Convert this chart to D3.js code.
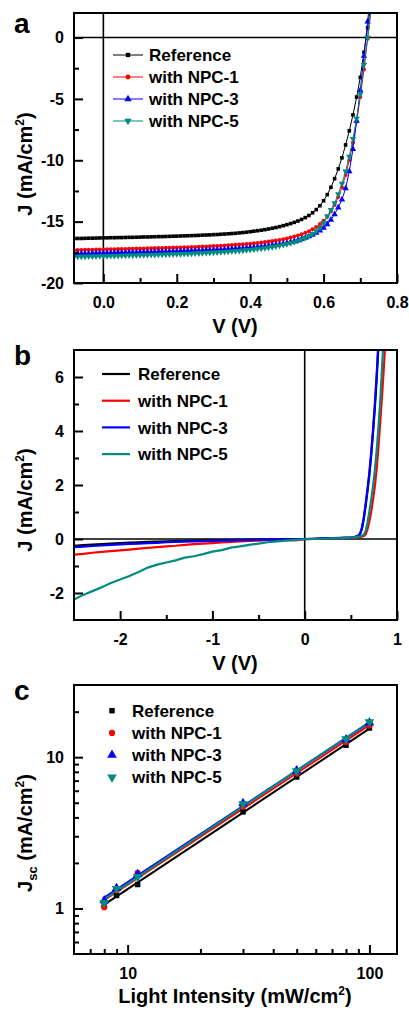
<!DOCTYPE html>
<html><head><meta charset="utf-8">
<script src="https://cdn.jsdelivr.net/npm/d3@7"></script>
<style>
body{margin:0;background:#fff;}
svg{display:block;}
text{font-family:Arial,"Liberation Sans",sans-serif;font-weight:bold;fill:#000;}
</style></head><body>
<svg id="chart" width="409" height="1010"></svg>
<script>
// ---------- DATA ----------
const seriesNames = ["Reference", "with NPC-1", "with NPC-3", "with NPC-5"];
const seriesColors = ["#000000", "#ff0000", "#0000ff", "#008b80"];

// Panel a: J-V under illumination
const vA = [-0.08,-0.07,-0.06,-0.05,-0.04,-0.03,-0.02,-0.01,0.00,
 0.01,0.02,0.03,0.04,0.05,0.06,0.07,0.08,0.09,0.10,
 0.11,0.12,0.13,0.14,0.15,0.16,0.17,0.18,0.19,0.20,
 0.21,0.22,0.23,0.24,0.25,0.26,0.27,0.28,0.29,0.30,
 0.31,0.32,0.33,0.34,0.35,0.36,0.37,0.38,0.39,0.40,
 0.41,0.42,0.43,0.44,0.45,0.46,0.47,0.48,0.49,0.50,
 0.51,0.52,0.53,0.54,0.55,0.56,0.57,0.58,0.59,0.60,
 0.61,0.62,0.63,0.64,0.65,0.66,0.67,0.68,0.69,0.70,
 0.71,0.72,0.73,0.74];
const jRefA = [-16.38,-16.37,-16.37,-16.36,-16.35,-16.35,-16.34,-16.33,-16.32,
 -16.32,-16.31,-16.31,-16.30,-16.30,-16.29,-16.28,-16.28,-16.27,-16.26,
 -16.25,-16.25,-16.24,-16.23,-16.22,-16.22,-16.21,-16.20,-16.19,-16.18,
 -16.17,-16.16,-16.15,-16.14,-16.13,-16.12,-16.10,-16.09,-16.08,-16.06,
 -16.05,-16.03,-16.01,-15.99,-15.97,-15.95,-15.92,-15.89,-15.86,-15.82,
 -15.78,-15.74,-15.70,-15.65,-15.60,-15.54,-15.48,-15.41,-15.33,-15.25,
 -15.16,-15.06,-14.95,-14.82,-14.67,-14.50,-14.28,-14.02,-13.70,-13.30,
 -12.80,-12.20,-11.50,-10.70,-9.80,-8.75,-7.60,-6.30,-4.85,-3.25,
 -1.20,0.80,2.90,5.10];
const jNpc1A = [-17.32,-17.31,-17.31,-17.30,-17.29,-17.29,-17.28,-17.27,-17.27,
 -17.26,-17.25,-17.25,-17.24,-17.23,-17.23,-17.22,-17.21,-17.20,-17.20,
 -17.19,-17.18,-17.17,-17.16,-17.16,-17.15,-17.14,-17.13,-17.12,-17.11,
 -17.10,-17.09,-17.08,-17.07,-17.06,-17.05,-17.03,-17.02,-17.01,-16.99,
 -16.98,-16.96,-16.95,-16.93,-16.91,-16.89,-16.87,-16.85,-16.82,-16.80,
 -16.77,-16.74,-16.71,-16.67,-16.63,-16.59,-16.54,-16.49,-16.43,-16.37,
 -16.30,-16.22,-16.13,-16.03,-15.91,-15.78,-15.62,-15.43,-15.20,-14.93,
 -14.60,-14.18,-13.65,-13.00,-12.20,-11.20,-10.00,-8.55,-6.85,-4.85,
 -2.60,-0.10,2.50,5.20];
const jNpc3A = [-17.62,-17.61,-17.61,-17.60,-17.60,-17.59,-17.58,-17.58,-17.57,
 -17.56,-17.56,-17.55,-17.54,-17.54,-17.53,-17.52,-17.52,-17.51,-17.50,
 -17.49,-17.49,-17.48,-17.47,-17.46,-17.46,-17.45,-17.44,-17.43,-17.42,
 -17.41,-17.40,-17.39,-17.38,-17.37,-17.36,-17.35,-17.33,-17.32,-17.31,
 -17.29,-17.28,-17.26,-17.25,-17.23,-17.21,-17.19,-17.17,-17.15,-17.12,
 -17.10,-17.07,-17.04,-17.01,-16.97,-16.93,-16.89,-16.84,-16.79,-16.73,
 -16.67,-16.60,-16.52,-16.43,-16.33,-16.21,-16.08,-15.92,-15.73,-15.50,
 -15.22,-14.85,-14.40,-13.85,-13.20,-12.30,-10.90,-9.10,-6.80,-4.30,
 -1.50,1.30,4.30,7.00];
const jNpc5A = [-17.86,-17.85,-17.85,-17.84,-17.83,-17.83,-17.82,-17.81,-17.80,
 -17.80,-17.79,-17.78,-17.78,-17.77,-17.76,-17.75,-17.75,-17.74,-17.73,
 -17.72,-17.71,-17.70,-17.70,-17.69,-17.68,-17.67,-17.66,-17.65,-17.64,
 -17.63,-17.62,-17.61,-17.60,-17.58,-17.57,-17.56,-17.54,-17.53,-17.51,
 -17.50,-17.48,-17.46,-17.44,-17.42,-17.40,-17.38,-17.35,-17.32,-17.29,
 -17.26,-17.22,-17.19,-17.15,-17.10,-17.06,-17.01,-16.95,-16.89,-16.82,
 -16.74,-16.66,-16.56,-16.45,-16.32,-16.17,-15.99,-15.78,-15.50,-15.10,
 -14.55,-14.05,-13.50,-12.75,-11.90,-10.90,-9.70,-8.25,-6.60,-4.60,
 -2.20,0.00,2.40,4.90];

// Panel b: dark J-V
const vB = [-2.5,-2.4,-2.3,-2.2,-2.1,-2.0,-1.9,-1.8,-1.7,-1.6,-1.5,-1.4,-1.3,-1.2,-1.1,-1.0,
 -0.9,-0.8,-0.7,-0.6,-0.5,-0.4,-0.3,-0.2,-0.1,0,0.1,0.2,0.3,0.4,0.5,
 0.52,0.54,0.56,0.58,0.60,0.62,0.64,0.66,0.68,0.70,0.72,0.74,0.76,0.78,0.80,0.82,0.84,0.86,0.88,0.90];
const jRefB = [-0.25,-0.23,-0.21,-0.19,-0.17,-0.15,-0.13,-0.12,-0.11,-0.10,-0.09,-0.08,-0.07,-0.06,-0.05,-0.05,
 -0.04,-0.04,-0.03,-0.03,-0.02,-0.02,-0.01,-0.01,0.00,0.00,0.01,0.02,0.03,0.04,0.05,
 0.06,0.07,0.09,0.12,0.18,0.38,0.74,1.22,1.76,2.35,3.08,3.92,4.85,5.95,7.20,8.60,9.80,10.8,11.8,12.8];
const jNpc1B = [-0.58,-0.55,-0.51,-0.48,-0.45,-0.42,-0.39,-0.36,-0.33,-0.30,-0.27,-0.25,-0.22,-0.19,-0.17,-0.15,
 -0.13,-0.11,-0.09,-0.07,-0.06,-0.04,-0.03,-0.03,-0.05,-0.01,0.00,0.01,0.02,0.03,0.04,
 0.05,0.05,0.06,0.07,0.08,0.09,0.11,0.16,0.35,0.65,1.00,1.45,1.95,2.60,3.45,4.40,5.40,6.50,7.70,9.00];
const jNpc3B = [-0.30,-0.28,-0.26,-0.24,-0.22,-0.20,-0.18,-0.17,-0.15,-0.14,-0.12,-0.11,-0.10,-0.09,-0.08,-0.07,
 -0.06,-0.05,-0.04,-0.04,-0.03,-0.02,-0.02,-0.01,-0.01,0.00,0.01,0.02,0.03,0.04,0.06,
 0.07,0.08,0.10,0.13,0.20,0.42,0.80,1.30,1.85,2.45,3.20,4.05,5.00,6.10,7.40,8.80,10.0,11.0,12.0,13.0];
const jNpc5B = [-2.24,-2.07,-1.93,-1.79,-1.63,-1.50,-1.37,-1.22,-1.06,-0.95,-0.87,-0.79,-0.69,-0.64,-0.56,-0.47,
 -0.41,-0.32,-0.27,-0.22,-0.17,-0.12,-0.09,-0.06,-0.03,-0.01,0.00,0.01,0.02,0.03,0.05,
 0.06,0.07,0.08,0.09,0.10,0.12,0.16,0.30,0.60,1.00,1.45,1.95,2.55,3.30,4.20,5.20,6.50,7.80,9.20,10.60];

// Panel c: Jsc vs light intensity
const intensity = [8, 9, 11, 30, 50, 80, 100];
const jscRef  = [1.07, 1.22, 1.44, 4.35, 7.40, 12.0, 15.6];
const jscNpc1 = [1.02, 1.32, 1.72, 4.70, 7.80, 12.6, 16.2];
const jscNpc3 = [1.13, 1.36, 1.68, 4.95, 8.15, 13.1, 16.9];
const jscNpc5 = [1.09, 1.35, 1.62, 4.90, 8.10, 13.2, 17.1];

// Tick definitions
const ticksAx = [0, 0.2, 0.4, 0.6, 0.8], minorAx = [0.1, 0.3, 0.5, 0.7];
const ticksAy = [0, -5, -10, -15, -20], minorAy = [-2.5, -7.5, -12.5, -17.5];
const ticksBx = [-2, -1, 0, 1], minorBx = [-1.5, -0.5, 0.5];
const ticksBy = [-2, 0, 2, 4, 6], minorBy = [-1, 1, 3, 5];
const ticksCx = [10, 100], minorCx = [7, 8, 9, 20, 30, 40, 50, 60, 70, 80, 90];
const ticksCy = [1, 10], minorCy = [0.6, 0.7, 0.8, 0.9, 2, 3, 4, 5, 6, 7, 8, 9, 20];

// ---------- DRAW ----------
const svg = d3.select("#chart");
const L = 74, R = 397;
const FONT_TICK = 16, FONT_TITLE = 20, FONT_LEG = 17;
const fmtInt = d => String(d);          // plain hyphen-minus like the original
const fmt1 = d => d.toFixed(1);

function symbolFor(i) {
  if (i === 0) return d3.symbol().type(d3.symbolSquare);
  if (i === 1) return d3.symbol().type(d3.symbolCircle);
  return d3.symbol().type(d3.symbolTriangle);
}

function axes(g, x, y, top, bottom, xt, xm, yt, ym, xfmt, yfmt) {
  const ax = d3.axisBottom(x).tickValues(xt).tickSize(-9).tickPadding(14).tickFormat(xfmt);
  const axm = d3.axisBottom(x).tickValues(xm).tickSize(-5).tickFormat("");
  const ay = d3.axisLeft(y).tickValues(yt).tickSize(-9).tickPadding(10).tickFormat(yfmt);
  const aym = d3.axisLeft(y).tickValues(ym).tickSize(-5).tickFormat("");
  [ [ax, "b"], [axm, "b"], [ay, "l"], [aym, "l"] ].forEach(([a, side]) => {
    const gg = g.append("g").attr("transform", side === "b" ? `translate(0,${bottom})` : `translate(${L},0)`).call(a);
    gg.select(".domain").remove();
    gg.selectAll("line").attr("stroke", "#000").attr("stroke-width", 2);
    gg.selectAll("text").attr("font-size", FONT_TICK).attr("font-family", null).attr("fill", "#000");
  });
  g.append("rect").attr("x", L).attr("y", top).attr("width", R - L).attr("height", bottom - top)
    .attr("fill", "none").attr("stroke", "#000").attr("stroke-width", 2);
}

function yTitle(g, cx, cy, sub) {
  const t = g.append("text").attr("transform", `translate(${cx},${cy}) rotate(-90)`)
    .attr("text-anchor", "middle").attr("dy", "0.36em").attr("font-size", FONT_TITLE);
  t.append("tspan").text("J");
  if (sub) { t.append("tspan").attr("font-size", 13).attr("dy", 5).text(sub); t.append("tspan").attr("dy", -5).text(" (mA/cm"); }
  else t.append("tspan").text(" (mA/cm");
  t.append("tspan").attr("font-size", 12).attr("dy", -8).text("2");
  t.append("tspan").attr("dy", 8).text(")");
}

// ===== Panel a =====
(function () {
  const top = 13, bottom = 283;
  const x = d3.scaleLinear().domain([-0.08, 0.8]).range([L, R]);
  const y = d3.scaleLinear().domain([-20, 2]).range([bottom, top]);
  const g = svg.append("g");
  g.append("clipPath").attr("id", "clipA").append("rect").attr("x", L).attr("y", top).attr("width", R - L).attr("height", bottom - top);
  const plot = g.append("g").attr("clip-path", "url(#clipA)");
  plot.append("line").attr("x1", x(0)).attr("x2", x(0)).attr("y1", top).attr("y2", bottom).attr("stroke", "#000").attr("stroke-width", 1.6);
  plot.append("line").attr("x1", L).attr("x2", R).attr("y1", y(0)).attr("y2", y(0)).attr("stroke", "#000").attr("stroke-width", 1.6);
  const sets = [jRefA, jNpc1A, jNpc3A, jNpc5A];
  const line = d3.line().x(d => x(d[0])).y(d => y(d[1]));
  const sizes = [13, 13, 18, 18];
  sets.forEach((js, i) => {
    const pts = vA.map((v, k) => [v, js[k]]);
    plot.append("path").attr("d", line(pts)).attr("fill", "none").attr("stroke", seriesColors[i]).attr("stroke-width", 1);
    plot.append("g").selectAll("path").data(pts).join("path")
      .attr("d", symbolFor(i).size(sizes[i]))
      .attr("transform", d => `translate(${x(d[0])},${y(d[1])})${i === 3 ? " rotate(180)" : ""}`)
      .attr("fill", seriesColors[i]);
  });
  axes(g, x, y, top, bottom, ticksAx, minorAx, ticksAy, minorAy, fmt1, fmtInt);
  // legend
  seriesNames.forEach((n, i) => {
    const cy = 55 + i * 22;
    g.append("line").attr("x1", 113).attr("x2", 143).attr("y1", cy).attr("y2", cy).attr("stroke", seriesColors[i]).attr("stroke-width", 1);
    g.append("path").attr("d", symbolFor(i).size(sizes[i] + 6)).attr("transform", `translate(128,${cy})${i === 3 ? " rotate(180)" : ""}`).attr("fill", seriesColors[i]);
    g.append("text").attr("x", 149).attr("y", cy).attr("dy", "0.36em").attr("font-size", FONT_LEG).text(n);
  });
  g.append("text").attr("x", 235).attr("y", 333).attr("text-anchor", "middle").attr("font-size", FONT_TITLE).text("V (V)");
  yTitle(g, 25, 164, null);
  g.append("text").attr("x", 14).attr("y", 33).attr("font-size", 28).text("a");
})();

// ===== Panel b =====
(function () {
  const top = 350, bottom = 620;
  const x = d3.scaleLinear().domain([-2.5, 1]).range([L, R]);
  const y = d3.scaleLinear().domain([-3, 7]).range([bottom, top]);
  const g = svg.append("g");
  g.append("clipPath").attr("id", "clipB").append("rect").attr("x", L).attr("y", top).attr("width", R - L).attr("height", bottom - top);
  const plot = g.append("g").attr("clip-path", "url(#clipB)");
  plot.append("line").attr("x1", x(0)).attr("x2", x(0)).attr("y1", top).attr("y2", bottom).attr("stroke", "#000").attr("stroke-width", 1.6);
  plot.append("line").attr("x1", L).attr("x2", R).attr("y1", y(0)).attr("y2", y(0)).attr("stroke", "#000").attr("stroke-width", 1.6);
  const sets = [jRefB, jNpc1B, jNpc3B, jNpc5B];
  const line = d3.line().x(d => x(d[0])).y(d => y(d[1]));
  sets.forEach((js, i) => {
    const pts = vB.map((v, k) => [v, js[k]]);
    plot.append("path").attr("d", line(pts)).attr("fill", "none").attr("stroke", seriesColors[i]).attr("stroke-width", 2.2);
  });
  axes(g, x, y, top, bottom, ticksBx, minorBx, ticksBy, minorBy, fmtInt, fmtInt);
  seriesNames.forEach((n, i) => {
    const cy = 374 + i * 26.7;
    g.append("line").attr("x1", 102).attr("x2", 130).attr("y1", cy).attr("y2", cy).attr("stroke", seriesColors[i]).attr("stroke-width", 2.2);
    g.append("text").attr("x", 138).attr("y", cy).attr("dy", "0.36em").attr("font-size", FONT_LEG).text(n);
  });
  g.append("text").attr("x", 235).attr("y", 670).attr("text-anchor", "middle").attr("font-size", FONT_TITLE).text("V (V)");
  yTitle(g, 25, 500, null);
  g.append("text").attr("x", 14).attr("y", 365).attr("font-size", 28).text("b");
})();

// ===== Panel c =====
(function () {
  const top = 685, bottom = 954;
  const x = d3.scaleLog().domain([6, 130]).range([L, R]);
  const y = d3.scaleLog().domain([0.5, 30]).range([bottom, top]);
  const g = svg.append("g");
  const sets = [jscRef, jscNpc1, jscNpc3, jscNpc5];
  const line = d3.line().x(d => x(d[0])).y(d => y(d[1]));
  const sizes = [30, 30, 40, 40];
  sets.forEach((js, i) => {
    // least-squares fit on log-log data
    const lx = intensity.map(Math.log10), ly = js.map(Math.log10);
    const mx = d3.mean(lx), my = d3.mean(ly);
    const slope = d3.sum(lx.map((v, k) => (v - mx) * (ly[k] - my))) / d3.sum(lx.map(v => (v - mx) ** 2));
    const b = my - slope * mx;
    const ends = [intensity[0], intensity[intensity.length - 1]].map(v => [v, Math.pow(10, b + slope * Math.log10(v))]);
    g.append("path").attr("d", line(ends)).attr("fill", "none").attr("stroke", seriesColors[i]).attr("stroke-width", 2);
  });
  sets.forEach((js, i) => {
    g.append("g").selectAll("path").data(intensity.map((v, k) => [v, js[k]])).join("path")
      .attr("d", symbolFor(i).size(sizes[i]))
      .attr("transform", d => `translate(${x(d[0])},${y(d[1])})${i === 3 ? " rotate(180)" : ""}`)
      .attr("fill", seriesColors[i]);
  });
  axes(g, x, y, top, bottom, ticksCx, minorCx, ticksCy, minorCy, fmtInt, fmtInt);
  seriesNames.forEach((n, i) => {
    const cy = 710.7 + i * 22.2;
    g.append("path").attr("d", symbolFor(i).size(sizes[i])).attr("transform", `translate(112,${cy})${i === 3 ? " rotate(180)" : ""}`).attr("fill", seriesColors[i]);
    g.append("text").attr("x", 132).attr("y", cy).attr("dy", "0.36em").attr("font-size", FONT_LEG).text(n);
  });
  const xt = g.append("text").attr("x", 235).attr("y", 1003).attr("text-anchor", "middle").attr("font-size", FONT_TITLE);
  xt.append("tspan").text("Light Intensity (mW/cm");
  xt.append("tspan").attr("font-size", 12).attr("dy", -8).text("2");
  xt.append("tspan").attr("dy", 8).text(")");
  yTitle(g, 25, 833, "sc");
  g.append("text").attr("x", 14).attr("y", 700).attr("font-size", 28).text("c");
})();
</script>
</body></html>
